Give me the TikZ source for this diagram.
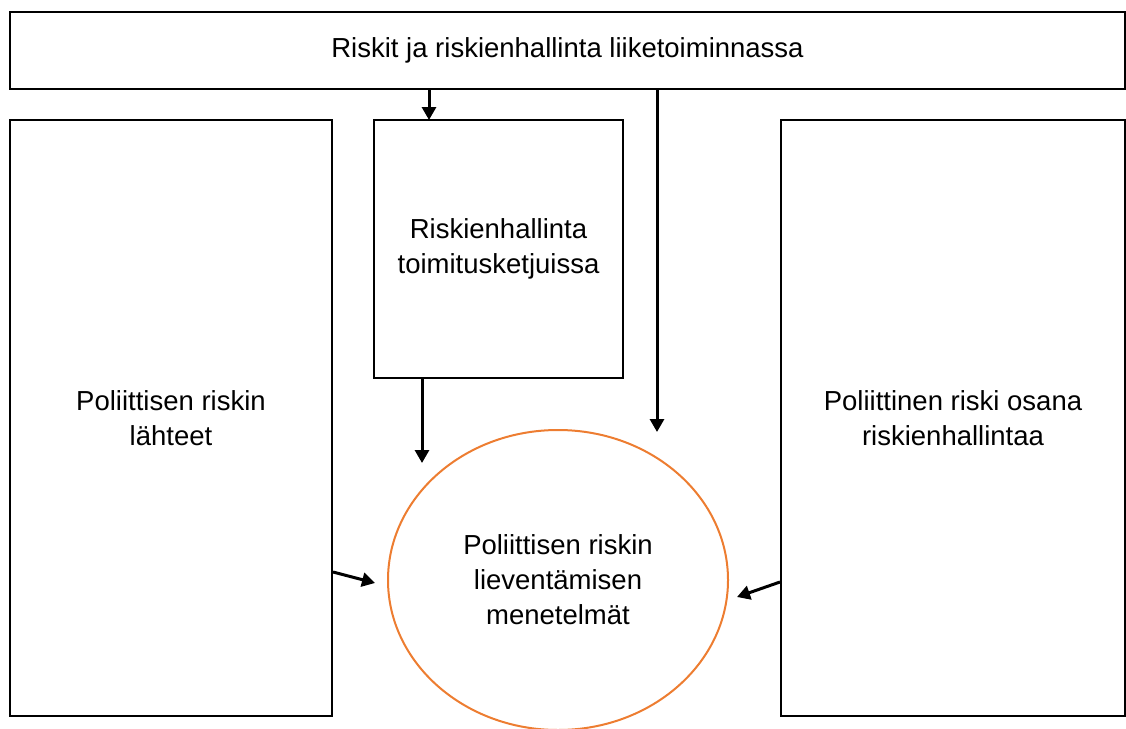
\documentclass[tikz,border=0pt]{standalone}
\usepackage{fontspec}
\setmainfont{Liberation Sans}
\usepackage{tikz}
\usetikzlibrary{arrows.meta,shapes,positioning}

\definecolor{ovalorange}{RGB}{237,125,49}

\begin{document}
\begin{tikzpicture}[
	x=1pt, y=-1pt,
	basic/.style  = {draw, line width=2pt, rectangle, align=center, inner sep=0pt,
		font=\fontsize{27.5}{35}\selectfont},
	topbox/.style = {basic, minimum width=1115, minimum height=77},
	sidebox/.style = {basic, minimum width=322, minimum height=596},
	midbox/.style = {basic, minimum width=249, minimum height=258},
	oval/.style   = {draw=ovalorange, line width=2pt, ellipse, align=center, inner sep=0pt,
		minimum width=340, minimum height=300, font=\fontsize{27.5}{35}\selectfont},
	link/.style   = {-{Triangle[length=13pt,width=14pt]}, line width=3pt},
	>=latex]
	
	\useasboundingbox (0,0) rectangle (1126,728);
	
	% the heading across the top
	\node[topbox] (top) at (567.5,50.5) {Riskit ja riskienhallinta liiketoiminnassa};
	
	% the three boxes below it
	\node[sidebox] (sources) at (171,418) {Poliittisen riskin\\lähteet};
	\node[midbox] (chains) at (498.5,249) {Riskienhallinta\\toimitusketjuissa};
	\node[sidebox, minimum width=344] (part) at (953,418) {Poliittinen riski osana\\riskienhallintaa};
	
	% the oval in the middle
	\node[oval] (methods) at (558,580) {Poliittisen riskin\\lieventämisen\\menetelmät};
	
	% free ends of the connectors
	\coordinate (e1) at (429,120);
	\coordinate (e2) at (657,432);
	\coordinate (e3) at (422,463);
	\coordinate (e4) at (375,583);
	\coordinate (e5) at (737,597);
	
	% lines into the oval and the middle box
	\draw[link] (e1 |- top.south) -- (e1);
	\draw[link] (e2 |- top.south) -- (e2);
	\draw[link] (e3 |- chains.south) -- (e3);
	\draw[link] (sources.east |- 0,572) -- (e4);
	\draw[link] (part.west |- 0,582) -- (e5);
	
\end{tikzpicture}
\end{document}
